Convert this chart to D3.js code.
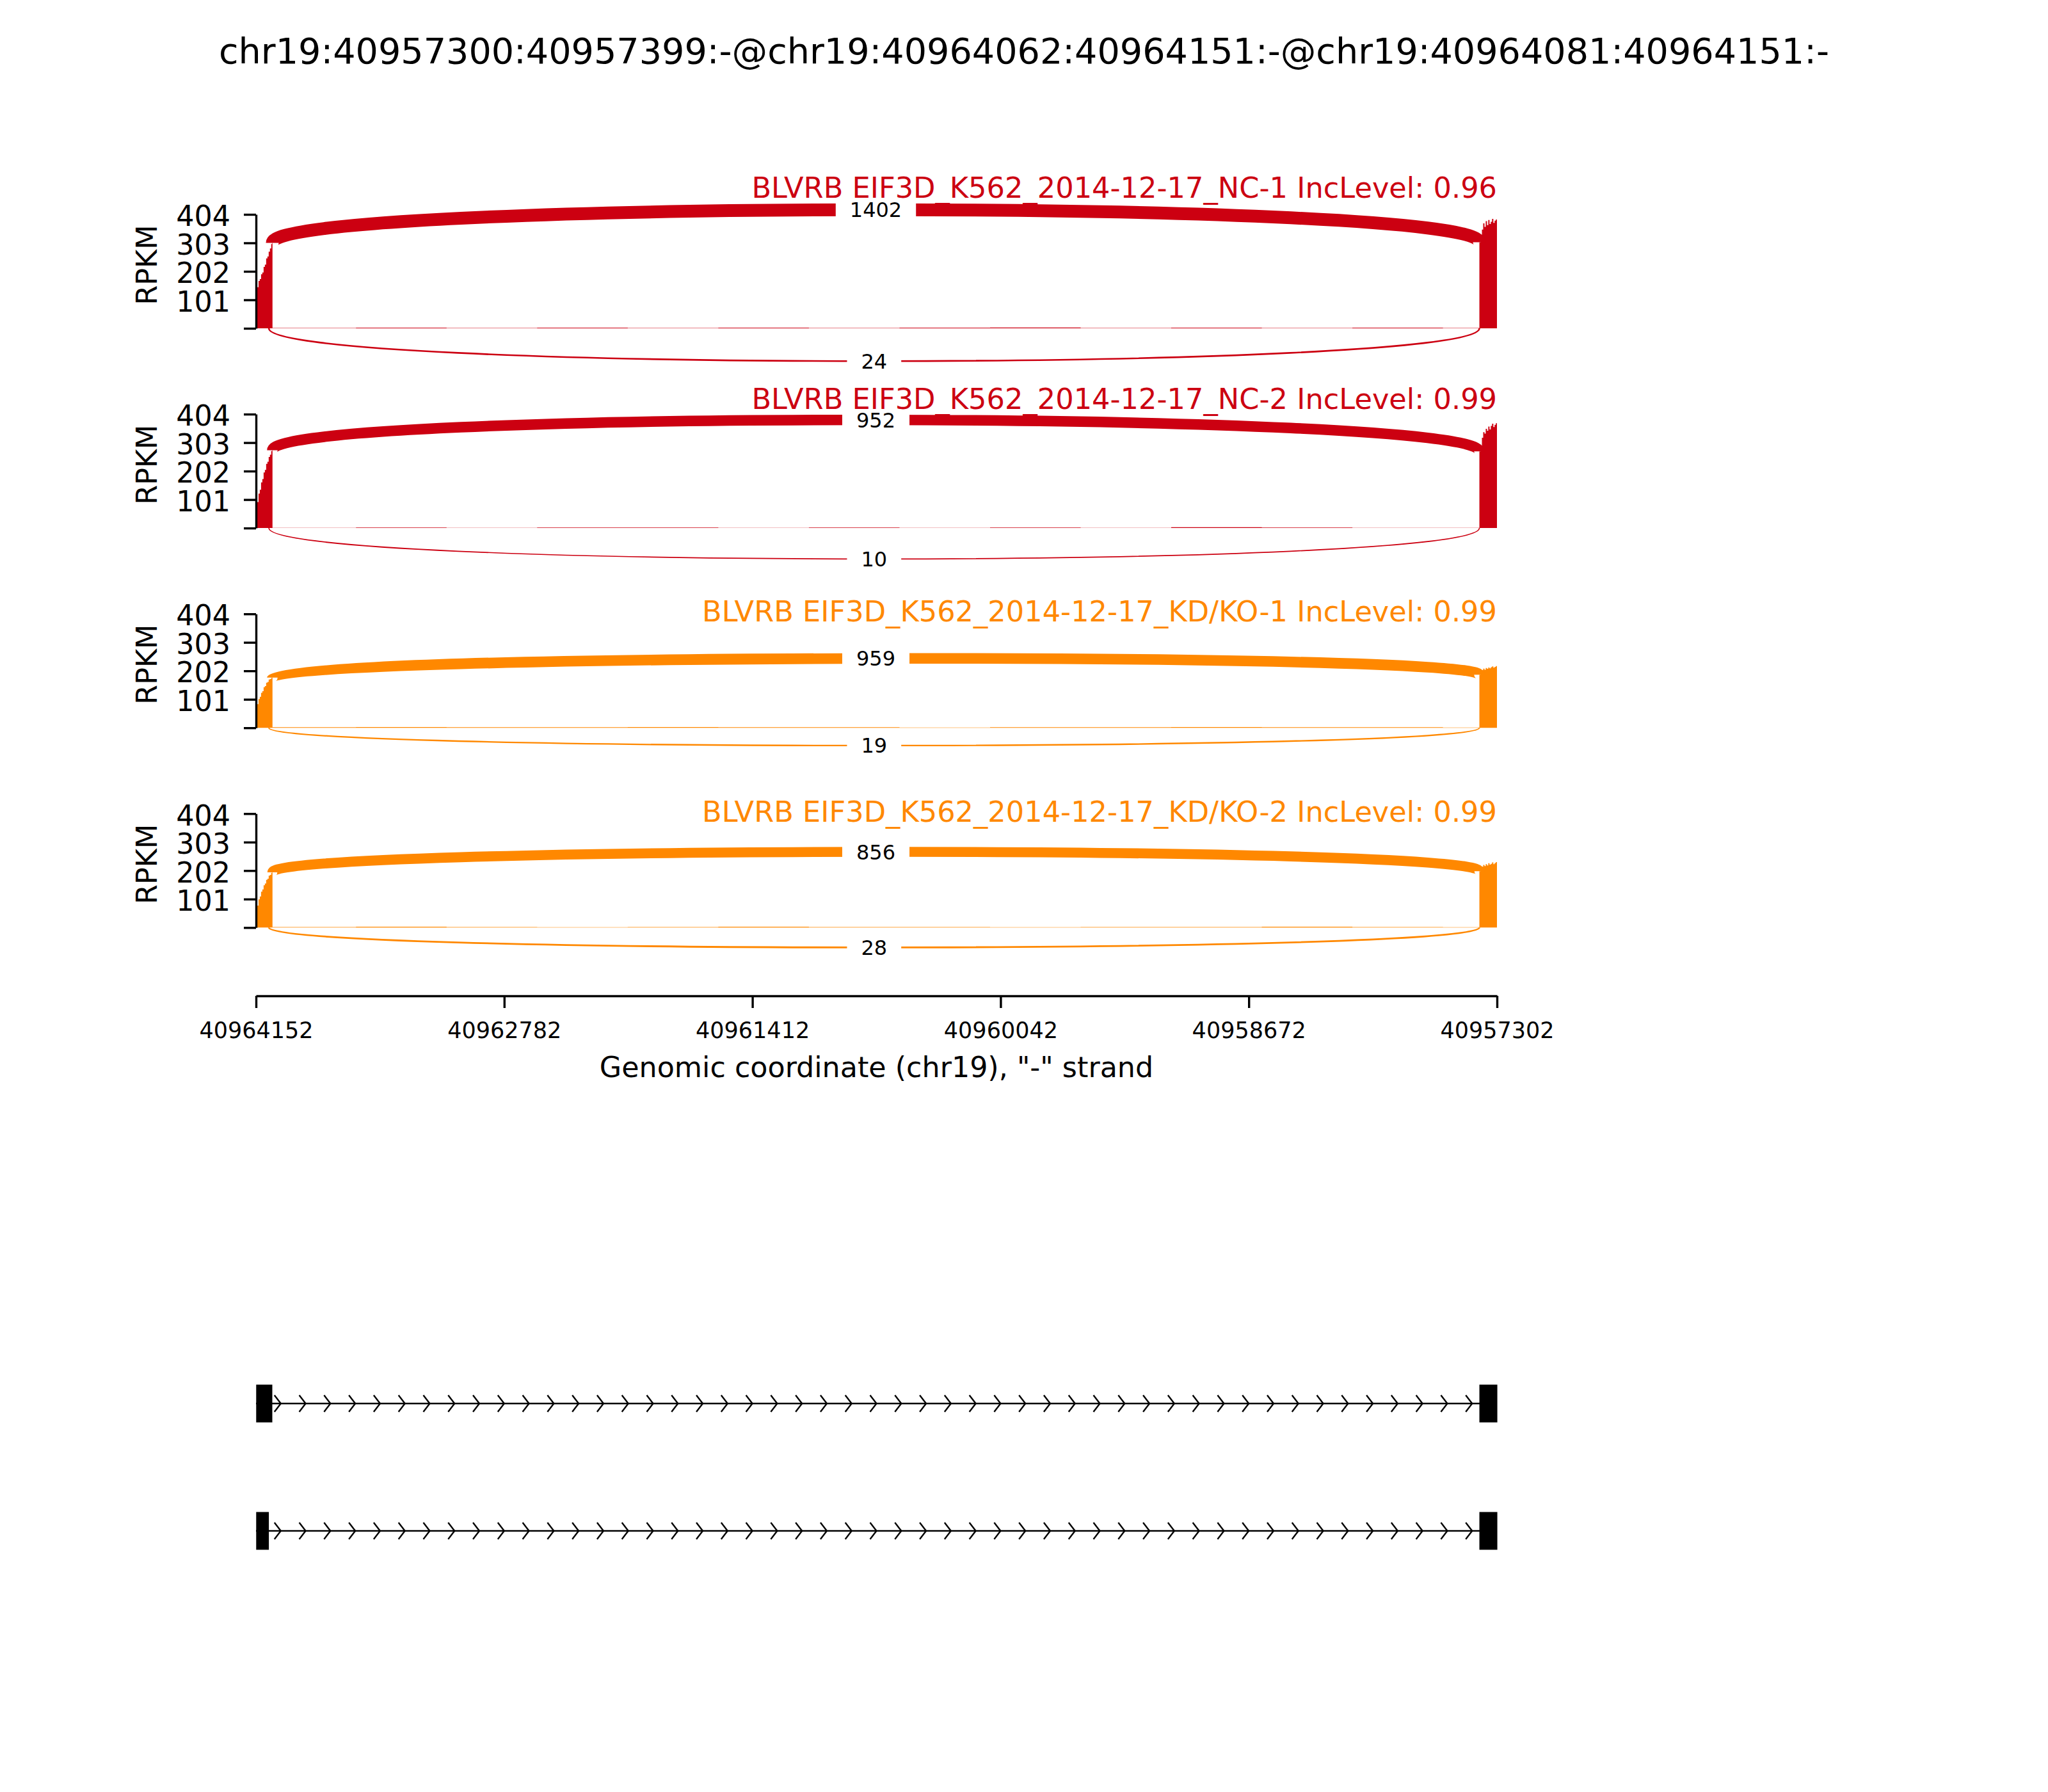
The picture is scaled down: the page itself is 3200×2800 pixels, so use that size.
<!DOCTYPE html>
<html>
<head>
<meta charset="utf-8">
<script src="https://cdn.jsdelivr.net/npm/d3@7"></script>
<style>
  body { margin: 0; background: #fff; }
  text { font-family: "DejaVu Sans", sans-serif; }
</style>
</head>
<body>
<div id="wrapper"></div>
<script>
// ---- data ----
const eventTitle = `chr19:40957300:40957399:-@chr19:40964062:40964151:-@chr19:40964081:40964151:-`;
const sampleLabels = [
  `BLVRB EIF3D_K562_2014-12-17_NC-1`,
  `BLVRB EIF3D_K562_2014-12-17_NC-2`,
  `BLVRB EIF3D_K562_2014-12-17_KD/KO-1`,
  `BLVRB EIF3D_K562_2014-12-17_KD/KO-2`,
];
const sampleGroups = [`NC`, `NC`, `KD`, `KD`];
const incLevels = [0.96, 0.99, 0.99, 0.99];
const longJxnCounts = [1402, 952, 959, 856];
const shortJxnCounts = [24, 10, 19, 28];
// arc bulge (RPKM units) and top of each axes (RPKM units)
const arcHeights = [155, 146, 84, 94];
const axisTops = [388, 347, 302, 300];

const longJxn = [40964062, 40957399];
const shortJxn = [40964081, 40957399];

const leftExonPos = [40964152, 40964145, 40964138, 40964131, 40964124, 40964117, 40964110,
  40964103, 40964096, 40964089, 40964082, 40964075, 40964068, 40964063];
const leftExonCov = [
  [130, 146, 168, 175, 192, 198, 218, 226, 248, 255, 272, 283, 299, 303],
  [70, 92, 122, 136, 162, 174, 197, 206, 228, 235, 252, 260, 273, 276],
  [68, 84, 102, 110, 124, 130, 144, 148, 160, 163, 171, 173, 177, 178],
  [60, 78, 100, 110, 127, 135, 150, 156, 169, 173, 184, 187, 194, 196],
];
const intronPos = [40964061, 40963600, 40963100, 40962600, 40962100, 40961600, 40961100,
  40960600, 40960100, 40959600, 40959100, 40958600, 40958100, 40957600];
const intronCov = [
  [1, 2, 1, 2, 1, 2, 1, 2, 3, 1, 2, 1, 2, 1],
  [1, 2, 1, 2, 2, 1, 2, 1, 2, 1, 3, 2, 1, 1],
  [2, 3, 2, 2, 3, 2, 2, 1, 2, 2, 3, 2, 2, 1],
  [2, 3, 2, 1, 2, 3, 2, 2, 1, 2, 2, 3, 2, 1],
];
const rightExonPos = [40957399, 40957392, 40957385, 40957378, 40957371, 40957364, 40957357,
  40957350, 40957343, 40957336, 40957329, 40957322, 40957315, 40957308, 40957302];
const rightExonCov = [
  [305, 318, 350, 372, 360, 380, 366, 384, 370, 378, 388, 374, 382, 386, 376],
  [272, 290, 320, 340, 335, 352, 345, 360, 350, 362, 370, 358, 366, 372, 364],
  [188, 196, 205, 210, 206, 212, 209, 214, 211, 215, 218, 213, 216, 219, 214],
  [200, 208, 216, 222, 218, 225, 220, 228, 223, 226, 231, 225, 229, 232, 227],
];

const isoforms = [
  [[40964151, 40964062], [40957399, 40957300]],
  [[40964151, 40964081], [40957399, 40957300]],
];

const xTicks = [40964152, 40962782, 40961412, 40960042, 40958672, 40957302];
const yTicks = [0, 101, 202, 303, 404];

// ---- layout ----
const W = 3200, H = 2800;
const colors = { NC: `#CC0011`, KD: `#FF8800` };
const panelBase = 513, panelStep = 312.1, panelH = 178;
const xAxisY = 1556;
const isoY = [2193, 2392];

const svg = d3.select(`#wrapper`).append(`svg`)
  .attr(`width`, W).attr(`height`, H)
  .style(`background`, `#fff`);

const x = d3.scaleLinear().domain([40964152, 40957302]).range([400, 2339]);
const lw = d3.scaleSqrt().domain([0, 1402]).range([0, 20]);

svg.append(`text`)
  .attr(`x`, W / 2).attr(`y`, 99)
  .attr(`text-anchor`, `middle`)
  .attr(`font-size`, 55.6)
  .text(eventTitle);

svg.append(`defs`).append(`clipPath`).attr(`id`, `xclip`)
  .append(`rect`).attr(`x`, 400).attr(`y`, 0).attr(`width`, 1939).attr(`height`, H);

sampleLabels.forEach((label, i) => {
  const base = panelBase + i * panelStep;
  const color = colors[sampleGroups[i]];
  const y = d3.scaleLinear().domain([0, 404]).range([base, base - panelH]);
  const g = svg.append(`g`);

  // coverage
  const pts = [];
  leftExonPos.forEach((p, j) => pts.push([p, leftExonCov[i][j]]));
  intronPos.forEach((p, j) => pts.push([p, intronCov[i][j]]));
  rightExonPos.forEach((p, j) => pts.push([p, rightExonCov[i][j]]));
  pts.push([40957300, rightExonCov[i][rightExonCov[i].length - 1]]);

  const area = d3.area()
    .curve(d3.curveStepAfter)
    .x(d => x(d[0]))
    .y0(y(0))
    .y1(d => y(d[1]));

  g.append(`path`)
    .datum(pts)
    .attr(`clip-path`, `url(#xclip)`)
    .attr(`fill`, color)
    .attr(`d`, area);

  // junction arcs
  const h = arcHeights[i];
  const ld = leftExonCov[i][leftExonCov[i].length - 1];
  const rd = rightExonCov[i][0];
  const arcs = [
    { x1: x(longJxn[0]), x2: x(longJxn[1]), a: ld, b: rd, dir: 1, n: longJxnCounts[i] },
    { x1: x(shortJxn[0]), x2: x(shortJxn[1]), a: 0, b: 0, dir: -1, n: shortJxnCounts[i] },
  ];
  arcs.forEach(arc => {
    const p = d3.path();
    p.moveTo(arc.x1, y(arc.a));
    p.bezierCurveTo(arc.x1, y(arc.a + arc.dir * h), arc.x2, y(arc.b + arc.dir * h), arc.x2, y(arc.b));
    g.append(`path`)
      .attr(`d`, p.toString())
      .attr(`fill`, `none`)
      .attr(`stroke`, color)
      .attr(`stroke-width`, lw(arc.n));

    const mx = (arc.x1 + arc.x2) / 2;
    const my = y((arc.a + arc.b) / 2 + arc.dir * 0.75 * h);
    const box = g.append(`rect`).attr(`fill`, `#fff`);
    const t = g.append(`text`)
      .attr(`x`, mx).attr(`y`, my)
      .attr(`dy`, `0.36em`)
      .attr(`text-anchor`, `middle`)
      .attr(`font-size`, 32)
      .text(arc.n);
    const tw = t.node().getComputedTextLength();
    box.attr(`x`, mx - tw / 2 - 22).attr(`y`, my - 20)
      .attr(`width`, tw + 44).attr(`height`, 40);
  });

  // y axis
  const yAxis = g.append(`g`)
    .attr(`transform`, `translate(400,0)`)
    .call(d3.axisLeft(y).tickValues(yTicks).tickSize(19).tickSizeOuter(0).tickPadding(21)
      .tickFormat(d => d === 0 ? `` : d));
  yAxis.selectAll(`path, line`).attr(`stroke`, `#000`).attr(`stroke-width`, 3.4);
  yAxis.selectAll(`text`).attr(`font-size`, 44.4).attr(`dy`, `0.4em`)
    .attr(`font-family`, `"DejaVu Sans", sans-serif`).attr(`fill`, `#000`);

  g.append(`text`)
    .attr(`transform`, `translate(245,${base - 99}) rotate(-90)`)
    .attr(`text-anchor`, `middle`)
    .attr(`font-size`, 44.4)
    .text(`RPKM`);

  g.append(`text`)
    .attr(`x`, 2339).attr(`y`, y(axisTops[i]) - 33)
    .attr(`text-anchor`, `end`)
    .attr(`font-size`, 44.7)
    .attr(`fill`, color)
    .text(`${label} IncLevel: ${incLevels[i]}`);
});

// x axis
const xAxis = svg.append(`g`)
  .attr(`transform`, `translate(0,${xAxisY})`)
  .call(d3.axisBottom(x).tickValues(xTicks).tickSize(19).tickSizeOuter(0).tickPadding(22)
    .tickFormat(d3.format(`d`)));
xAxis.selectAll(`path, line`).attr(`stroke`, `#000`).attr(`stroke-width`, 3.4);
xAxis.selectAll(`text`).attr(`font-size`, 35)
  .attr(`font-family`, `"DejaVu Sans", sans-serif`).attr(`fill`, `#000`);

svg.append(`text`)
  .attr(`x`, (x.range()[0] + x.range()[1]) / 2).attr(`y`, 1683)
  .attr(`text-anchor`, `middle`)
  .attr(`font-size`, 44.4)
  .text(`Genomic coordinate (chr19), "-" strand`);

// isoform track
const [gx0, gx1] = x.range();
const chevrons = d3.range(1, 50).map(k => gx0 + k * (gx1 - gx0) / 50);
isoforms.forEach((exons, i) => {
  const cy = isoY[i];
  const g = svg.append(`g`);
  g.append(`line`)
    .attr(`x1`, gx0).attr(`x2`, gx1)
    .attr(`y1`, cy).attr(`y2`, cy)
    .attr(`stroke`, `#000`).attr(`stroke-width`, 2.4);
  g.selectAll(`.chev`).data(chevrons).enter().append(`path`)
    .attr(`class`, `chev`)
    .attr(`d`, cx => `M${cx - 10},${cy - 13}L${cx},${cy}L${cx - 10},${cy + 13}`)
    .attr(`fill`, `none`).attr(`stroke`, `#000`).attr(`stroke-width`, 2.4);
  g.selectAll(`.exon`).data(exons).enter().append(`rect`)
    .attr(`class`, `exon`)
    .attr(`x`, d => x(d[0]))
    .attr(`width`, d => x(d[1]) - x(d[0]))
    .attr(`y`, cy - 29.5).attr(`height`, 59)
    .attr(`fill`, `#000`);
});
</script>
</body>
</html>
